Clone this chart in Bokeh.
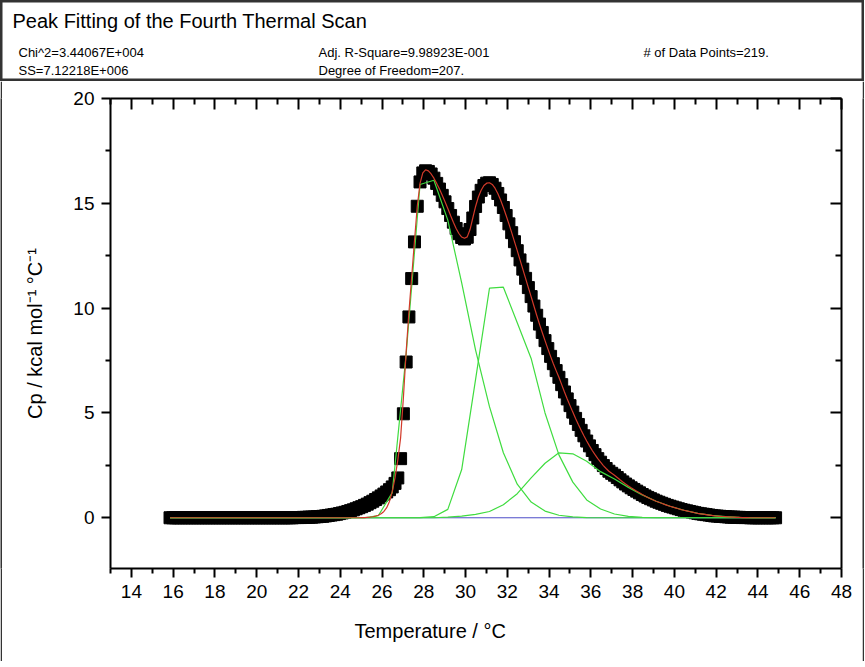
from bokeh.plotting import figure
from bokeh.models import LinearAxis, FixedTicker, Range1d, Title
from bokeh.layouts import column, row
from bokeh.core.properties import value
from bokeh.embed import file_html
from bokeh.resources import INLINE

# ---------------- data ----------------
temperature = [
    15.850, 15.983, 16.116, 16.249, 16.382, 16.515, 16.648, 16.781, 16.914, 17.047,
    17.180, 17.313, 17.446, 17.579, 17.712, 17.845, 17.978, 18.111, 18.244, 18.377,
    18.510, 18.643, 18.776, 18.909, 19.042, 19.175, 19.308, 19.441, 19.574, 19.707,
    19.840, 19.973, 20.106, 20.239, 20.372, 20.505, 20.638, 20.771, 20.904, 21.037,
    21.170, 21.303, 21.436, 21.569, 21.702, 21.835, 21.968, 22.101, 22.234, 22.367,
    22.500, 22.633, 22.766, 22.899, 23.032, 23.165, 23.298, 23.431, 23.564, 23.697,
    23.830, 23.963, 24.096, 24.229, 24.362, 24.495, 24.628, 24.761, 24.894, 25.027,
    25.160, 25.293, 25.426, 25.559, 25.692, 25.825, 25.958, 26.091, 26.224, 26.357,
    26.490, 26.623, 26.756, 26.889, 27.022, 27.155, 27.288, 27.421, 27.554, 27.687,
    27.820, 27.953, 28.086, 28.219, 28.352, 28.485, 28.618, 28.751, 28.884, 29.017,
    29.150, 29.283, 29.416, 29.549, 29.682, 29.815, 29.948, 30.081, 30.214, 30.347,
    30.480, 30.613, 30.746, 30.879, 31.012, 31.145, 31.278, 31.411, 31.544, 31.677,
    31.810, 31.943, 32.076, 32.209, 32.342, 32.475, 32.608, 32.741, 32.874, 33.007,
    33.140, 33.273, 33.406, 33.539, 33.672, 33.805, 33.938, 34.071, 34.204, 34.337,
    34.470, 34.603, 34.736, 34.869, 35.002, 35.135, 35.268, 35.401, 35.534, 35.667,
    35.800, 35.933, 36.066, 36.199, 36.332, 36.465, 36.598, 36.731, 36.864, 36.997,
    37.130, 37.263, 37.396, 37.529, 37.662, 37.795, 37.928, 38.061, 38.194, 38.327,
    38.460, 38.593, 38.726, 38.859, 38.992, 39.125, 39.258, 39.391, 39.524, 39.657,
    39.790, 39.923, 40.056, 40.189, 40.322, 40.455, 40.588, 40.721, 40.854, 40.987,
    41.120, 41.253, 41.386, 41.519, 41.652, 41.785, 41.918, 42.051, 42.184, 42.317,
    42.450, 42.583, 42.716, 42.849, 42.982, 43.115, 43.248, 43.381, 43.514, 43.647,
    43.780, 43.913, 44.046, 44.179, 44.312, 44.445, 44.578, 44.711, 44.844,
]

cp_data = [
    0, 0, 0, 0, 0, 0, 0, 0, 0, 0,
    0, 0, 0, 0, 0, 0, 0, 0, 0, 0,
    0, 0, 0, 0, 0, 0, 0, 0, 0, 0,
    0, 0, 0, 0, 0, 0, 0, 0, 0, 0,
    0.00, 0.00, 0.00, 0.00, 0.00, 0.01, 0.01, 0.01, 0.02, 0.02,
    0.03, 0.03, 0.04, 0.05, 0.06, 0.07, 0.09, 0.11, 0.13, 0.15,
    0.17, 0.20, 0.23, 0.26, 0.30, 0.34, 0.38, 0.43, 0.48, 0.53,
    0.59, 0.65, 0.72, 0.79, 0.87, 0.95, 1.04, 1.13, 1.23, 1.34,
    1.47, 1.64, 1.90, 2.82, 4.96, 7.43, 9.58, 11.41, 13.16, 14.86,
    16.02, 16.45, 16.55, 16.52, 16.40, 16.20, 15.95, 15.68, 15.38, 15.07,
    14.75, 14.42, 14.10, 13.80, 13.55, 13.37, 13.30, 13.38, 13.75, 14.30,
    14.85, 15.30, 15.62, 15.85, 15.96, 15.98, 15.90, 15.72, 15.47, 15.16,
    14.80, 14.42, 14.02, 13.60, 13.17, 12.74, 12.30, 11.86, 11.42, 10.98,
    10.55, 10.10, 9.66, 9.24, 8.84, 8.45, 8.07, 7.70, 7.35, 7.02,
    6.70, 6.35, 6.00, 5.67, 5.35, 5.04, 4.74, 4.45, 4.17, 3.91,
    3.66, 3.43, 3.21, 3.01, 2.82, 2.65, 2.49, 2.35, 2.22, 2.12,
    2.03, 1.92, 1.81, 1.71, 1.61, 1.52, 1.43, 1.35, 1.27, 1.19,
    1.11, 1.04, 0.97, 0.91, 0.85, 0.79, 0.74, 0.69, 0.64, 0.59,
    0.55, 0.51, 0.47, 0.43, 0.39, 0.36, 0.33, 0.30, 0.27, 0.24,
    0.21, 0.19, 0.17, 0.15, 0.13, 0.11, 0.09, 0.08, 0.07, 0.06,
    0.05, 0.04, 0.03, 0.03, 0.02, 0.02, 0.01, 0.01, 0.01, 0.00,
    0, 0, 0, 0, 0, 0, 0, 0, 0,
]

cp_fit = [
    0, 0, 0, 0, 0, 0, 0, 0, 0, 0,
    0, 0, 0, 0, 0, 0, 0, 0, 0, 0,
    0, 0, 0, 0, 0, 0, 0, 0, 0, 0,
    0, 0, 0, 0, 0, 0, 0, 0, 0, 0,
    0, 0, 0, 0, 0, 0, 0, 0, 0, 0,
    0, 0, 0, 0, 0, 0, 0, 0, 0, 0,
    0, 0, 0, 0, 0, 0, 0, 0, 0, 0.01,
    0.01, 0.02, 0.03, 0.05, 0.08, 0.12, 0.19, 0.30, 0.48, 0.78,
    1.25, 1.90, 2.75, 3.80, 5.70, 7.90, 9.80, 11.50, 13.20, 14.85,
    15.95, 16.45, 16.60, 16.55, 16.40, 16.20, 15.95, 15.68, 15.38, 15.07,
    14.75, 14.42, 14.10, 13.80, 13.56, 13.39, 13.33, 13.40, 13.75, 14.30,
    14.85, 15.30, 15.62, 15.85, 15.96, 15.98, 15.90, 15.72, 15.47, 15.16,
    14.80, 14.42, 14.02, 13.60, 13.17, 12.74, 12.30, 11.86, 11.42, 10.98,
    10.55, 10.10, 9.66, 9.24, 8.84, 8.45, 8.07, 7.70, 7.35, 7.02,
    6.70, 6.35, 6.00, 5.67, 5.35, 5.04, 4.74, 4.45, 4.17, 3.91,
    3.66, 3.43, 3.21, 3.01, 2.82, 2.65, 2.49, 2.35, 2.22, 2.12,
    2.03, 1.92, 1.81, 1.71, 1.61, 1.52, 1.43, 1.35, 1.27, 1.19,
    1.11, 1.04, 0.97, 0.91, 0.85, 0.79, 0.74, 0.69, 0.64, 0.59,
    0.55, 0.51, 0.47, 0.43, 0.39, 0.36, 0.33, 0.30, 0.27, 0.24,
    0.21, 0.19, 0.17, 0.15, 0.13, 0.11, 0.09, 0.08, 0.07, 0.06,
    0.05, 0.04, 0.03, 0.03, 0.02, 0.02, 0.01, 0.01, 0.01, 0.00,
    0, 0, 0, 0, 0, 0, 0, 0, 0,
]

# fitted component peaks (sampled coarsely, as drawn in the reference)
comp_t = [15.850, 16.515, 17.180, 17.845, 18.510, 19.175, 19.840, 20.505, 21.170, 21.835,
          22.500, 23.165, 23.830, 24.495, 25.160, 25.825, 26.490, 27.155, 27.820, 28.485,
          29.150, 29.815, 30.480, 31.145, 31.810, 32.475, 33.140, 33.805, 34.470, 35.135,
          35.800, 36.465, 37.130, 37.795, 38.460, 39.125, 39.790, 40.455, 41.120, 41.785,
          42.450, 43.115, 43.780, 44.445, 44.844]
peak1 = [0, 0, 0, 0, 0, 0, 0, 0, 0, 0,
         0, 0, 0, 0, 0, 0.10, 1.20, 7.80, 15.90, 16.10,
         14.20, 11.20, 8.00, 5.30, 3.10, 1.60, 0.75, 0.32, 0.12, 0.04,
         0.01, 0, 0, 0, 0, 0, 0, 0, 0, 0,
         0, 0, 0, 0, 0]
peak2 = [0, 0, 0, 0, 0, 0, 0, 0, 0, 0,
         0, 0, 0, 0, 0, 0, 0, 0, 0.01, 0.05,
         0.40, 2.30, 6.60, 10.95, 11.00, 9.30, 7.60, 5.00, 3.00, 1.70,
         0.85, 0.42, 0.18, 0.07, 0.02, 0, 0, 0, 0, 0,
         0, 0, 0, 0, 0]
peak3 = [0, 0, 0, 0, 0, 0, 0, 0, 0, 0,
         0, 0, 0, 0, 0, 0, 0, 0, 0, 0,
         0.03, 0.08, 0.16, 0.30, 0.62, 1.15, 1.90, 2.60, 3.10, 3.05,
         2.70, 2.20, 1.85, 1.45, 1.09, 0.79, 0.55, 0.36, 0.21, 0.11,
         0.05, 0.02, 0.01, 0, 0]
baseline_t = [15.85, 44.844]
baseline_cp = [0, 0]

x_ticks = [14, 16, 18, 20, 22, 24, 26, 28, 30, 32, 34, 36, 38, 40, 42, 44, 46, 48]
x_minor = [13, 15, 17, 19, 21, 23, 25, 27, 29, 31, 33, 35, 37, 39, 41, 43, 45, 47]
y_ticks = [0, 5, 10, 15, 20]
y_minor = [2.5, 7.5, 12.5, 17.5]

title_text = "Peak Fitting of the Fourth Thermal Scan"
stat_texts = ["Chi^2=3.44067E+004", "SS=7.12218E+006",
              "Adj. R-Square=9.98923E-001", "Degree of Freedom=207.",
              "# of Data Points=219."]
x_title = "Temperature / °C"
y_title = "Cp / kcal mol⁻¹ °C⁻¹"

# ---------------- layout constants (pixels) ----------------
FONT = "Liberation Sans"
EDGE = "#333333"
PAGE_W = 864
HEAD_H = 81
MAIN_W, MAIN_H = 860, 580
stat_x = [18, 18, 318, 318, 643]
stat_y = [52, 70, 52, 70, 52]

# ---------------- header (frame == whole canvas, pixel coordinates) ----------------
head = figure(width=PAGE_W, height=HEAD_H, output_backend="svg", toolbar_location=None,
              title=None, x_axis_location=None, y_axis_location=None,
              x_range=Range1d(0, PAGE_W), y_range=Range1d(HEAD_H, 0),
              min_border=0)
head.grid.visible = False
head.outline_line_color = EDGE
head.outline_line_width = 4
head.text(x=[12], y=[20], text=[title_text], text_font=value(FONT),
          text_font_size=value("20px"), text_color="black", text_baseline="middle")
head.text(x=stat_x, y=stat_y, text=stat_texts, text_font=value(FONT),
          text_font_size=value("13px"), text_color="black", text_baseline="middle")

# ---------------- main plot ----------------
FL, FR, FT, FB = 108, 839, 17, 487   # frame edges inside the main canvas
p = figure(width=MAIN_W, height=MAIN_H, output_backend="svg", toolbar_location=None,
           title=None, x_range=Range1d(13, 48), y_range=Range1d(-2.42, 20),
           x_axis_location=None, y_axis_location=None,
           min_border_left=FL, min_border_right=MAIN_W - FR,
           min_border_top=FT, min_border_bottom=MAIN_H - FB)
p.grid.visible = False
p.outline_line_color = None

xt = FixedTicker(ticks=x_ticks, minor_ticks=x_minor)
yt = FixedTicker(ticks=y_ticks, minor_ticks=y_minor)


def style_axis(ax, outward, show_labels):
    ax.axis_line_color = "black"
    ax.axis_line_width = 2
    ax.major_tick_line_color = "black"
    ax.major_tick_line_width = 2
    ax.minor_tick_line_color = "black"
    ax.minor_tick_line_width = 2
    if outward:
        ax.major_tick_out, ax.major_tick_in = 9, 0
        ax.minor_tick_out, ax.minor_tick_in = 5, 0
    else:
        ax.major_tick_out, ax.major_tick_in = 0, 11
        ax.minor_tick_out, ax.minor_tick_in = 0, 6
    ax.major_label_text_font = FONT
    ax.major_label_text_font_size = "19px"
    ax.major_label_text_color = "black"
    ax.axis_label_text_font = FONT
    ax.axis_label_text_font_size = "20px"
    ax.axis_label_text_font_style = "normal"
    ax.axis_label_text_color = "black"
    if not show_labels:
        ax.major_label_overrides = {t: "" for t in ax.ticker.ticks}
        ax.major_label_text_font_size = "0px"
        ax.major_label_standoff = 0


bottom = LinearAxis(ticker=xt)
style_axis(bottom, True, True)
bottom.major_label_standoff = 7
p.add_layout(bottom, "below")
p.add_layout(Title(text=x_title, align="left", offset=244, standoff=34,
                   text_font=FONT, text_font_size="20px", text_font_style="normal",
                   text_color="black"), "below")

left = LinearAxis(ticker=yt, axis_label=y_title)
style_axis(left, True, True)
left.major_label_standoff = 7
left.axis_label_standoff = 24
p.add_layout(left, "left")

top = LinearAxis(ticker=xt)
style_axis(top, False, False)
p.add_layout(top, "above")

right = LinearAxis(ticker=yt)
style_axis(right, False, False)
p.add_layout(right, "right")

p.scatter(temperature, cp_data, marker="square", size=12,
          fill_color="black", line_color="black")
p.line(baseline_t, baseline_cp, line_color="#4b4bc8", line_width=1)
for comp in (peak1, peak2, peak3):
    p.line(comp_t, comp, line_color="#3fdc3f", line_width=1.2)
p.line(temperature, cp_fit, line_color="#d23a2a", line_width=1.2)

# ---------------- outer frame strips ----------------
def strip(w, h):
    s = figure(width=w, height=h, output_backend="svg", toolbar_location=None,
               title=None, x_axis_location=None, y_axis_location=None,
               min_border=0, x_range=Range1d(0, 1), y_range=Range1d(0, 1))
    s.grid.visible = False
    s.outline_line_color = None
    s.background_fill_color = EDGE
    s.border_fill_color = EDGE
    return s


layout = column(head,
                row(strip(2, MAIN_H), p, strip(2, MAIN_H), spacing=0),
                strip(PAGE_W, 2), spacing=0)

open("out.html", "w").write(file_html(layout, INLINE))
